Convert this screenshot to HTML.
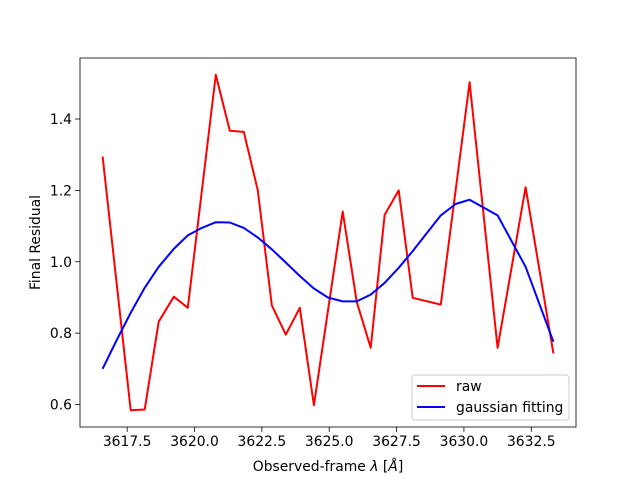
<!DOCTYPE html>
<html><head><meta charset="utf-8"><style>
body{margin:0;background:#fff;}
svg text{font-family:"DejaVu Sans","Liberation Sans",sans-serif;font-size:13.9px;fill:#000;}
</style></head><body>
<svg id="chart" width="640" height="480" viewBox="0 0 640 480" xmlns="http://www.w3.org/2000/svg">
<rect x="0" y="0" width="640" height="480" fill="#fff"/>
<g id="plot"></g>
</svg>
<script>
const xTicks = [3617.5, 3620.0, 3622.5, 3625.0, 3627.5, 3630.0, 3632.5];
const xTickLabels = ["3617.5", "3620.0", "3622.5", "3625.0", "3627.5", "3630.0", "3632.5"];
const yTicks = [0.6, 0.8, 1.0, 1.2, 1.4];
const yTickLabels = ["0.6", "0.8", "1.0", "1.2", "1.4"];
const rawX = [3616.59,3617.63,3618.15,3618.67,3619.23,3619.75,3620.79,3621.31,3621.83,3622.35,3622.87,3623.39,3623.91,3624.43,3625.50,3626.02,3626.54,3627.06,3627.58,3628.10,3629.14,3630.21,3631.25,3632.29,3633.32];
const rawY = [1.295,0.584,0.586,0.832,0.902,0.871,1.524,1.367,1.364,1.200,0.878,0.796,0.871,0.598,1.141,0.888,0.759,1.132,1.200,0.899,0.880,1.503,0.759,1.209,0.743];
const fitX = [3616.59,3617.11,3617.63,3618.15,3618.67,3619.23,3619.75,3620.27,3620.79,3621.31,3621.83,3622.35,3622.87,3623.39,3623.91,3624.43,3624.95,3625.50,3626.02,3626.54,3627.06,3627.58,3628.10,3628.62,3629.14,3629.69,3630.21,3631.25,3632.29,3633.32];
const fitY = [0.700,0.780,0.857,0.927,0.986,1.036,1.074,1.095,1.111,1.110,1.095,1.068,1.035,0.998,0.960,0.925,0.900,0.889,0.889,0.908,0.941,0.983,1.030,1.080,1.130,1.162,1.174,1.130,0.986,0.776];

const L=80,R=576,T=58,B=427;
const xMin=3615.75,xMax=3634.16,yMin=0.537,yMax=1.571;
function sx(v){return L+(v-xMin)/(xMax-xMin)*(R-L);}
function sy(v){return B-(v-yMin)/(yMax-yMin)*(B-T);}
const NS="http://www.w3.org/2000/svg";
const g=document.getElementById('plot');
function mk(tag,attrs,parent){const e=document.createElementNS(NS,tag);for(const k in attrs)e.setAttribute(k,attrs[k]);(parent||g).appendChild(e);return e;}

xTicks.forEach((t,i)=>{
  const x=sx(t);
  const tk=mk('line',{x1:x,x2:x,y1:B,y2:B+4.9,stroke:'#000','stroke-width':0.8});
  
  
  const tx=mk('text',{x:x,y:B+19,'text-anchor':'middle'});
  tx.textContent=xTickLabels[i];
  
  
});
yTicks.forEach((t,i)=>{
  const y=sy(t);
  const tk=mk('line',{x1:L-4.9,x2:L,y1:y,y2:y,stroke:'#000','stroke-width':0.8});
  
  
  const tx=mk('text',{x:L-8,y:y+5,'text-anchor':'end'});
  tx.textContent=yTickLabels[i];
  
  
});
function pts(xs,ys){return xs.map((v,i)=>sx(v).toFixed(1)+','+sy(ys[i]).toFixed(1)).join(' ');}
const rawLine=mk('polyline',{points:pts(rawX,rawY),fill:'none',stroke:'#ff0000','stroke-width':2,'stroke-linejoin':'round'});


const fitLine=mk('polyline',{points:pts(fitX,fitY),fill:'none',stroke:'#0000ff','stroke-width':2,'stroke-linejoin':'round'});


const frame=mk('rect',{x:L,y:T,width:R-L,height:B-T,fill:'none',stroke:'#000','stroke-width':0.8});



const xl=mk('text',{x:(L+R)/2,y:471,'text-anchor':'middle'});
xl.innerHTML='Observed-frame <tspan font-style="italic">λ</tspan> [<tspan font-style="italic">Å</tspan>]';


const yl=mk('text',{x:0,y:0,'text-anchor':'middle',transform:'translate(40,'+((T+B)/2)+') rotate(-90)'});
yl.textContent='Final Residual';



const lg=mk('g',{});


mk('rect',{x:412,y:375,width:157,height:45,rx:3,fill:'#fff','fill-opacity':0.8,stroke:'#ccc','stroke-width':1},lg);
const l1=mk('line',{x1:417,x2:445,y1:386,y2:386,stroke:'#ff0000','stroke-width':2},lg);


const t1=mk('text',{x:456,y:391},lg);t1.textContent='raw';


const l2=mk('line',{x1:417,x2:445,y1:407,y2:407,stroke:'#0000ff','stroke-width':2},lg);


const t2=mk('text',{x:456,y:412},lg);t2.textContent='gaussian fitting';


</script>
</body></html>
